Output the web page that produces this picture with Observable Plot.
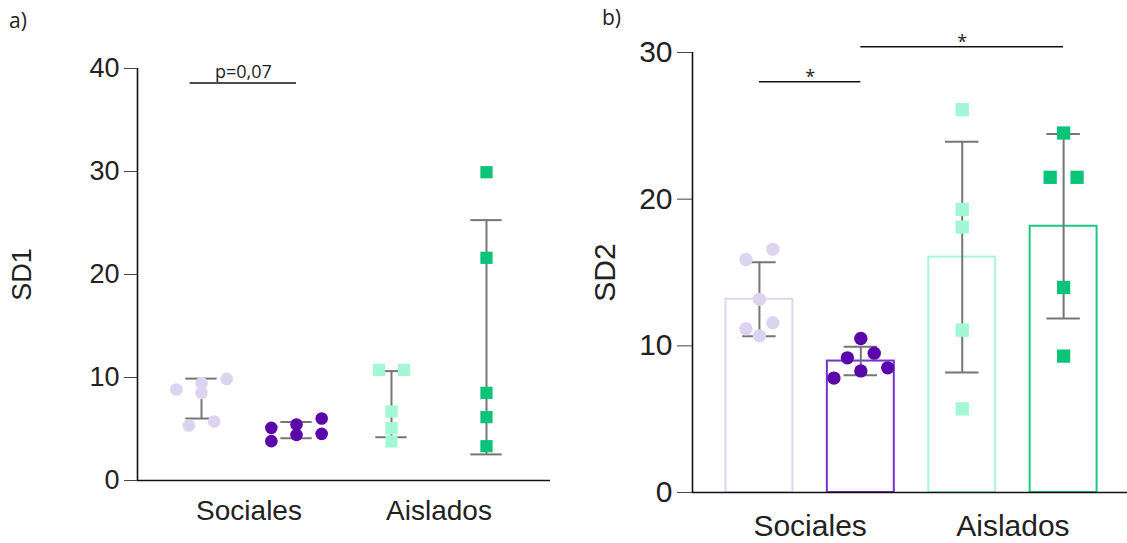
<!DOCTYPE html>
<html><head><meta charset="utf-8">
<script src="https://cdn.jsdelivr.net/npm/d3@7"></script>
<script src="https://cdn.jsdelivr.net/npm/@observablehq/plot@0.6"></script>
<style>
body{margin:0;background:#fff;}
#wrap{position:relative;width:1127px;height:543px;overflow:hidden;background:#fff;}
.panel{position:absolute;top:0;}
.tag{position:absolute;font-family:"Open Sans",sans-serif;font-size:21px;color:#222;line-height:1;}
</style></head><body>
<div id="wrap">
  <div class="panel" id="pa" style="left:0px"></div>
  <div class="panel" id="pb" style="left:560px"></div>
  <div class="tag" style="left:9px;top:10px">a)</div>
  <div class="tag" style="left:602px;top:7px">b)</div>
</div>
<script>
// ---- categories ----
const conditions = ["Sociales", "Aislados"];
const groups = ["Sociales 1", "Sociales 2", "Aislados 1", "Aislados 2"];
const groupCondition = ["Sociales", "Sociales", "Aislados", "Aislados"];

// ---- SD1 values (panel a) ----
const sd1_sociales1 = [8.83, 9.45, 9.87, 8.51, 5.34, 5.73];
const sd1_sociales2 = [5.11, 3.82, 5.44, 4.43, 6.02, 4.53];
const sd1_aislados1 = [10.74, 10.74, 6.70, 5.08, 3.79];
const sd1_aislados2 = [29.93, 21.62, 8.51, 6.15, 3.33];

// ---- SD2 values (panel b) ----
const sd2_sociales1 = [15.89, 16.58, 13.17, 11.57, 11.16, 10.68];
const sd2_sociales2 = [10.5, 9.18, 9.5, 8.5, 8.29, 7.8];
const sd2_aislados1 = [26.1, 19.3, 18.1, 11.07, 5.7];
const sd2_aislados2 = [24.51, 21.49, 21.49, 13.98, 9.3];

// ---- tick labels ----
const sd1Ticks = [0, 10, 20, 30, 40];
const sd2Ticks = [0, 10, 20, 30];

// ---- significance annotations ----
const sd1SigPairs = [["Sociales 1", "Sociales 2"]];
const sd1SigLabels = ["p=0,07"];
const sd1SigLevels = [38.6];
const sd2SigPairs = [["Sociales 1", "Sociales 2"], ["Sociales 2", "Aislados 2"]];
const sd2SigLabels = ["*", "*"];
const sd2SigLevels = [28, 30.4];

// ---- styles ----
const dotColors = ["#dcd4ee", "#5a06ab", "#a2f7d4", "#0bc478"];
const barStrokes = ["#ddd6f0", "#7434cc", "#a9f6d6", "#1bca80"];
const conditionSymbol = {"Sociales": "circle", "Aislados": "square"};

function dodgeOffsets(values, thresh, spacing) {
  const order = d3.range(values.length).sort((a, b) => values[b] - values[a]);
  const off = new Array(values.length).fill(0);
  let row = [];
  const flush = () => {
    row.sort((a, b) => values[a] - values[b]);
    row.forEach((idx, j) => off[idx] = (j - (row.length - 1) / 2) * spacing);
    row = [];
  };
  for (const idx of order) {
    if (row.length && values[row[0]] - values[idx] >= thresh) flush();
    row.push(idx);
  }
  flush();
  return off;
}

function makePanel(o) {
  const H = 543;
  const yMax = d3.max(o.ticks);
  const pxPerUnit = (H - o.mt - o.mb) / yMax;
  const thresh = o.dotPx / pxPerUnit;
  const points = [];
  const stats = [];
  o.values.forEach((vals, i) => {
    const off = dodgeOffsets(vals, thresh, 0.265);
    vals.forEach((v, k) => points.push({i, v, off: off[k], cond: groupCondition[i]}));
    const m = d3.mean(vals), s = d3.deviation(vals);
    stats.push({i, mean: m, lo: m - s, hi: m + s});
  });
  const sig = o.sigPairs.map((p, k) => ({
    a: groups.indexOf(p[0]), b: groups.indexOf(p[1]), label: o.sigLabels[k], y: o.sigLevels[k]
  }));
  const condTicks = conditions.map(c => d3.mean(groups.map((g, i) => i).filter(i => groupCondition[i] === c)));
  const marks = [];
  if (o.bars) {
    marks.push(Plot.rectY(stats, {x1: d => d.i - 0.33, x2: d => d.i + 0.33, y1: 0, y2: "mean",
      fill: "white", stroke: d => barStrokes[d.i], strokeWidth: 2}));
  }
  marks.push(
    Plot.ruleX(stats, {x: "i", y1: "lo", y2: "hi", stroke: "#767676", strokeWidth: 2}),
    Plot.ruleY(stats, {x1: d => d.i - 0.165, x2: d => d.i + 0.165, y: "hi", stroke: "#767676", strokeWidth: 2}),
    Plot.ruleY(stats, {x1: d => d.i - 0.165, x2: d => d.i + 0.165, y: "lo", stroke: "#767676", strokeWidth: 2}),
    Plot.dot(points.filter(d => conditionSymbol[d.cond] === "circle"),
      {x: d => d.i + d.off, y: "v", r: o.r, fill: d => dotColors[d.i], stroke: "none", symbol: "circle"}),
    Plot.dot(points.filter(d => conditionSymbol[d.cond] === "square"),
      {x: d => d.i + d.off, y: "v", r: o.sq, fill: d => dotColors[d.i], stroke: "none", symbol: "square"}),
    Plot.ruleY([0], {stroke: "#111", strokeWidth: 1.6}),
    Plot.ruleX([o.xDomain[0]], {y1: 0, y2: yMax, stroke: "#111", strokeWidth: 1.6}),
    Plot.axisY({ticks: o.ticks, tickSize: o.tickSize, tickPadding: 5, fontSize: o.tickFont,
      label: o.label, labelAnchor: "center", labelOffset: o.labelOffset, labelArrow: "none",
      stroke: "#444", fill: "#222"}),
    Plot.axisX({ticks: condTicks, tickFormat: t => conditions[condTicks.indexOf(t)], tickSize: 0,
      tickPadding: o.catPad, fontSize: o.catFont, label: null, fill: "#222"}),
    Plot.ruleY(sig, {x1: d => d.a - o.sigExtend, x2: "b", y: "y", stroke: "#111", strokeWidth: 1.5}),
    Plot.text(sig, {x: d => (d.a - o.sigExtend + d.b) / 2, y: "y", text: "label", lineAnchor: "bottom", dy: o.sigDy,
      fontSize: o.sigFont, fontFamily: "Open Sans", fill: "#222"})
  );
  return Plot.plot({
    width: o.width, height: H,
    marginLeft: o.ml, marginRight: o.mr, marginTop: o.mt, marginBottom: o.mb,
    x: {type: "linear", domain: o.xDomain},
    y: {domain: [0, yMax]},
    color: {type: "identity"},
    style: {fontFamily: "'Liberation Sans', Arial, sans-serif", background: "transparent", overflow: "visible", color: "#222"},
    marks
  });
}

document.getElementById("pa").appendChild(makePanel({
  values: [sd1_sociales1, sd1_sociales2, sd1_aislados1, sd1_aislados2],
  ticks: sd1Ticks, label: "SD1", width: 560, ml: 137, mr: 10, mt: 68, mb: 63,
  xDomain: [-0.674, 3.674], tickFont: 27, catFont: 28, catPad: 20, tickSize: 13,
  labelOffset: 126, bars: false, r: 6.3, sq: 6.9, dotPx: 13,
  sigPairs: sd1SigPairs, sigLabels: sd1SigLabels, sigLevels: sd1SigLevels, sigDy: -5, sigFont: 18, sigExtend: 0.12
}));
document.getElementById("pb").appendChild(makePanel({
  values: [sd2_sociales1, sd2_sociales2, sd2_aislados1, sd2_aislados2],
  ticks: sd2Ticks, label: "SD2", width: 567, ml: 132, mr: 0, mt: 52, mb: 51,
  xDomain: [-0.66, 3.63], tickFont: 30, catFont: 30, catPad: 22, tickSize: 15,
  labelOffset: 99, bars: true, r: 6.7, sq: 7.5, dotPx: 13,
  sigPairs: sd2SigPairs, sigLabels: sd2SigLabels, sigLevels: sd2SigLevels, sigDy: 1, sigFont: 18, sigExtend: 0
}));
</script>
</body></html>
